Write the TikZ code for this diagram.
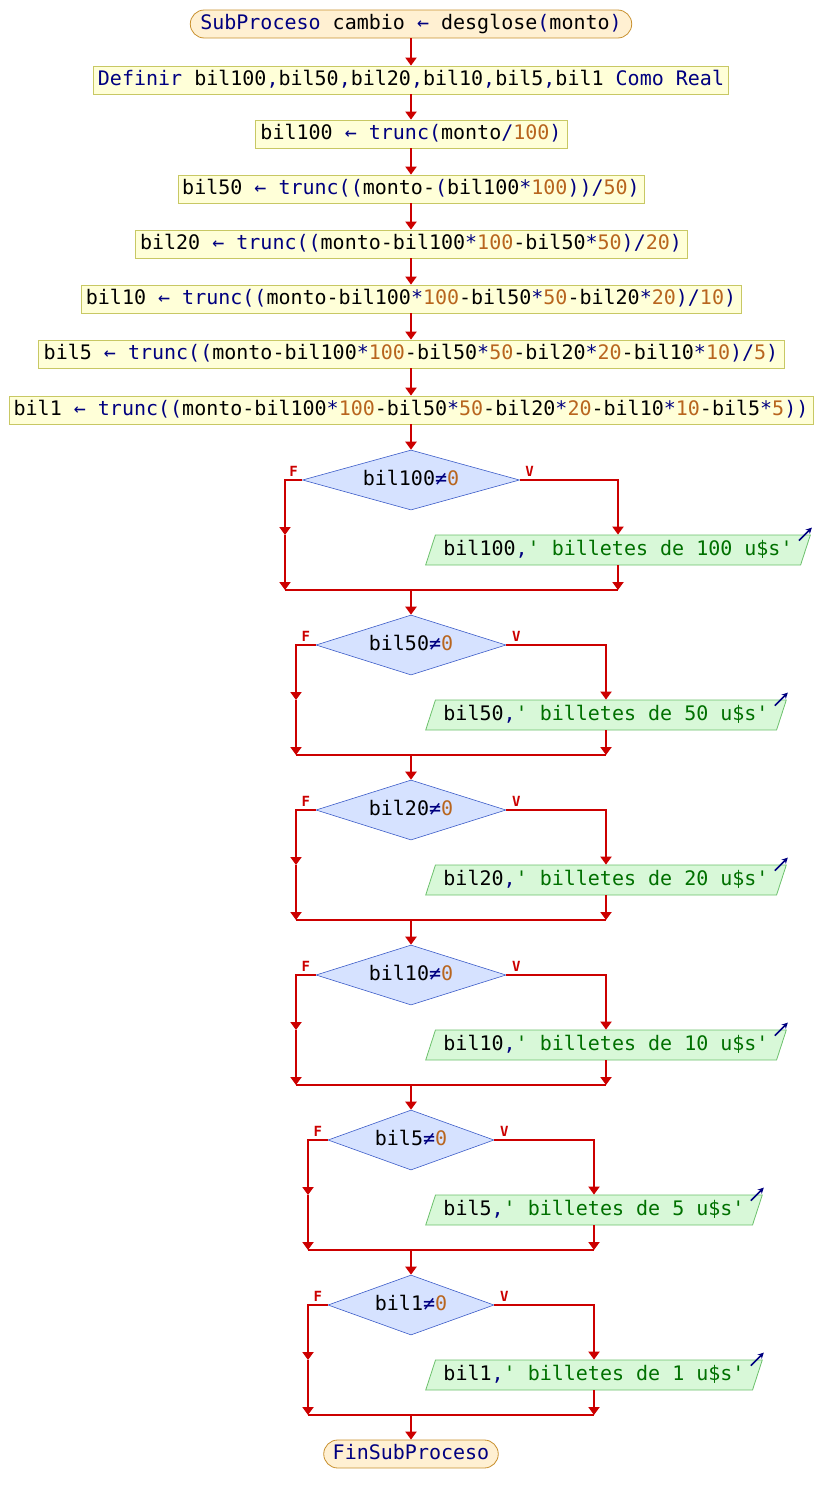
\documentclass[tikz,border=0pt]{standalone}
\usepackage{fontspec}
\setmonofont{DejaVu Sans Mono}
\usetikzlibrary{shapes.geometric,arrows.meta}
\definecolor{rojoflujo}{HTML}{CC0000}
\definecolor{kwazul}{HTML}{000080}
\definecolor{numcafe}{HTML}{B8651E}
\definecolor{strverde}{HTML}{007000}
\definecolor{termfondo}{HTML}{FFF0D2}
\definecolor{termborde}{HTML}{C8902E}
\definecolor{procfondo}{HTML}{FFFFD8}
\definecolor{procborde}{HTML}{C8C864}
\definecolor{decifondo}{HTML}{D6E2FF}
\definecolor{deciborde}{HTML}{3C5CC8}
\definecolor{salfondo}{HTML}{D8F8D8}
\definecolor{salborde}{HTML}{6CC06C}
\newcommand{\ckw}[1]{\textcolor{kwazul}{#1}}
\newcommand{\cnum}[1]{\textcolor{numcafe}{#1}}
\newcommand{\cstr}[1]{\textcolor{strverde}{#1}}
\tikzset{
  base/.style={font=\ttfamily\fontsize{20}{22}\selectfont, text height=14pt, text depth=4pt},
  term/.style={base, draw=termborde, fill=termfondo, line width=0.8pt, rounded corners=14pt,
    minimum height=28pt, inner ysep=0pt, inner xsep=10pt},
  proc/.style={base, draw=procborde, fill=procfondo, line width=0.8pt,
    minimum height=28pt, inner ysep=0pt, inner xsep=4pt},
  deci/.style={base, diamond, aspect=3.5, inner sep=0pt, draw=deciborde, fill=decifondo,
    line width=0.6pt, minimum height=60pt},
  salida/.style={base, trapezium, trapezium left angle=72, trapezium right angle=108,
    draw=salborde, fill=salfondo, line width=0.8pt, inner xsep=8pt, inner ysep=6pt},
  flecha/.style={rojoflujo, line width=2.6pt, -{Triangle[length=8pt,width=11pt]}},
  linea/.style={rojoflujo, line width=2.6pt},
  icono/.style={kwazul, line width=1.6pt, -{Stealth[length=6pt,width=6pt]}},
  lbl/.style={font=\ttfamily\bfseries\fontsize{14}{14}\selectfont, text=rojoflujo, inner sep=2pt}
}
\begin{document}
\begin{tikzpicture}[x=1pt,y=-1pt]
\useasboundingbox (0,0) rectangle (824,1505);
\node[term] (N0) at (411,24) {\ckw{SubProceso} cambio \ckw{←} desglose\ckw{(}monto\ckw{)}};
\node[proc, minimum width=635pt] (N1) at (411,80) {\ckw{Definir} bil100\ckw{,}bil50\ckw{,}bil20\ckw{,}bil10\ckw{,}bil5\ckw{,}bil1 \ckw{Como Real}};
\node[proc, minimum width=312pt] (N2) at (411,134) {bil100 \ckw{← trunc(}monto\ckw{/}\cnum{100}\ckw{)}};
\node[proc, minimum width=466pt] (N3) at (411,189) {bil50 \ckw{← trunc((}monto-\ckw{(}bil100\ckw{*}\cnum{100}\ckw{))/}\cnum{50}\ckw{)}};
\node[proc, minimum width=552pt] (N4) at (411,244) {bil20 \ckw{← trunc((}monto-bil100\ckw{*}\cnum{100}-bil50\ckw{*}\cnum{50}\ckw{)/}\cnum{20}\ckw{)}};
\node[proc, minimum width=660pt] (N5) at (411,299) {bil10 \ckw{← trunc((}monto-bil100\ckw{*}\cnum{100}-bil50\ckw{*}\cnum{50}-bil20\ckw{*}\cnum{20}\ckw{)/}\cnum{10}\ckw{)}};
\node[proc, minimum width=746pt] (N6) at (411,354) {bil5 \ckw{← trunc((}monto-bil100\ckw{*}\cnum{100}-bil50\ckw{*}\cnum{50}-bil20\ckw{*}\cnum{20}-bil10\ckw{*}\cnum{10}\ckw{)/}\cnum{5}\ckw{)}};
\node[proc, minimum width=804pt] (N7) at (411,410) {bil1 \ckw{← trunc((}monto-bil100\ckw{*}\cnum{100}-bil50\ckw{*}\cnum{50}-bil20\ckw{*}\cnum{20}-bil10\ckw{*}\cnum{10}-bil5\ckw{*}\cnum{5}\ckw{))}};

\draw[flecha] (N0) -- (N1);
\draw[flecha] (N1) -- (N2);
\draw[flecha] (N2) -- (N3);
\draw[flecha] (N3) -- (N4);
\draw[flecha] (N4) -- (N5);
\draw[flecha] (N5) -- (N6);
\draw[flecha] (N6) -- (N7);

% bil100
\node[deci, minimum width=217pt] (C1) at (411,480) {bil100\ckw{≠}\cnum{0}};
\node[salida] (O1) at (618,550) {bil100\ckw{,}\cstr{' billetes de 100 u\$s'}};
\coordinate (M1) at (285,535);
\coordinate (L1) at (285,590);
\coordinate (J1) at (411,590);
\coordinate (R1) at (618,590);
\draw[flecha] (N7) -- (C1);
\draw[flecha] (C1.west) -| (M1) node[pos=.25, above, lbl]{F};
\draw[flecha] (M1) -- (L1);
\draw[flecha] (C1.east) -| (O1) node[pos=.05, above, lbl]{V};
\draw[flecha] (O1) -- (R1);
\draw[linea] (L1) -- (R1);
\draw[icono] ([shift={(-12,6)}]O1.top right corner) -- ([shift={(1,-7)}]O1.top right corner);

% bil50
\node[deci, minimum width=190pt] (C2) at (411,645) {bil50\ckw{≠}\cnum{0}};
\node[salida] (O2) at (606,715) {bil50\ckw{,}\cstr{' billetes de 50 u\$s'}};
\coordinate (M2) at (296,700);
\coordinate (L2) at (296,755);
\coordinate (J2) at (411,755);
\coordinate (R2) at (606,755);
\draw[flecha] (J1) -- (C2);
\draw[flecha] (C2.west) -| (M2) node[pos=.25, above, lbl]{F};
\draw[flecha] (M2) -- (L2);
\draw[flecha] (C2.east) -| (O2) node[pos=.05, above, lbl]{V};
\draw[flecha] (O2) -- (R2);
\draw[linea] (L2) -- (R2);
\draw[icono] ([shift={(-12,6)}]O2.top right corner) -- ([shift={(1,-7)}]O2.top right corner);

% bil20
\node[deci, minimum width=190pt] (C3) at (411,810) {bil20\ckw{≠}\cnum{0}};
\node[salida] (O3) at (606,880) {bil20\ckw{,}\cstr{' billetes de 20 u\$s'}};
\coordinate (M3) at (296,865);
\coordinate (L3) at (296,920);
\coordinate (J3) at (411,920);
\coordinate (R3) at (606,920);
\draw[flecha] (J2) -- (C3);
\draw[flecha] (C3.west) -| (M3) node[pos=.25, above, lbl]{F};
\draw[flecha] (M3) -- (L3);
\draw[flecha] (C3.east) -| (O3) node[pos=.05, above, lbl]{V};
\draw[flecha] (O3) -- (R3);
\draw[linea] (L3) -- (R3);
\draw[icono] ([shift={(-12,6)}]O3.top right corner) -- ([shift={(1,-7)}]O3.top right corner);

% bil10
\node[deci, minimum width=190pt] (C4) at (411,975) {bil10\ckw{≠}\cnum{0}};
\node[salida] (O4) at (606,1045) {bil10\ckw{,}\cstr{' billetes de 10 u\$s'}};
\coordinate (M4) at (296,1030);
\coordinate (L4) at (296,1085);
\coordinate (J4) at (411,1085);
\coordinate (R4) at (606,1085);
\draw[flecha] (J3) -- (C4);
\draw[flecha] (C4.west) -| (M4) node[pos=.25, above, lbl]{F};
\draw[flecha] (M4) -- (L4);
\draw[flecha] (C4.east) -| (O4) node[pos=.05, above, lbl]{V};
\draw[flecha] (O4) -- (R4);
\draw[linea] (L4) -- (R4);
\draw[icono] ([shift={(-12,6)}]O4.top right corner) -- ([shift={(1,-7)}]O4.top right corner);

% bil5
\node[deci, minimum width=166pt] (C5) at (411,1140) {bil5\ckw{≠}\cnum{0}};
\node[salida] (O5) at (594,1210) {bil5\ckw{,}\cstr{' billetes de 5 u\$s'}};
\coordinate (M5) at (308,1195);
\coordinate (L5) at (308,1250);
\coordinate (J5) at (411,1250);
\coordinate (R5) at (594,1250);
\draw[flecha] (J4) -- (C5);
\draw[flecha] (C5.west) -| (M5) node[pos=.25, above, lbl]{F};
\draw[flecha] (M5) -- (L5);
\draw[flecha] (C5.east) -| (O5) node[pos=.05, above, lbl]{V};
\draw[flecha] (O5) -- (R5);
\draw[linea] (L5) -- (R5);
\draw[icono] ([shift={(-12,6)}]O5.top right corner) -- ([shift={(1,-7)}]O5.top right corner);

% bil1
\node[deci, minimum width=166pt] (C6) at (411,1305) {bil1\ckw{≠}\cnum{0}};
\node[salida] (O6) at (594,1375) {bil1\ckw{,}\cstr{' billetes de 1 u\$s'}};
\coordinate (M6) at (308,1360);
\coordinate (L6) at (308,1415);
\coordinate (J6) at (411,1415);
\coordinate (R6) at (594,1415);
\draw[flecha] (J5) -- (C6);
\draw[flecha] (C6.west) -| (M6) node[pos=.25, above, lbl]{F};
\draw[flecha] (M6) -- (L6);
\draw[flecha] (C6.east) -| (O6) node[pos=.05, above, lbl]{V};
\draw[flecha] (O6) -- (R6);
\draw[linea] (L6) -- (R6);
\draw[icono] ([shift={(-12,6)}]O6.top right corner) -- ([shift={(1,-7)}]O6.top right corner);

\node[term, inner xsep=9pt] (E) at (411,1454) {\ckw{FinSubProceso}};
\draw[flecha] (J6) -- (E);
\end{tikzpicture}
\end{document}
